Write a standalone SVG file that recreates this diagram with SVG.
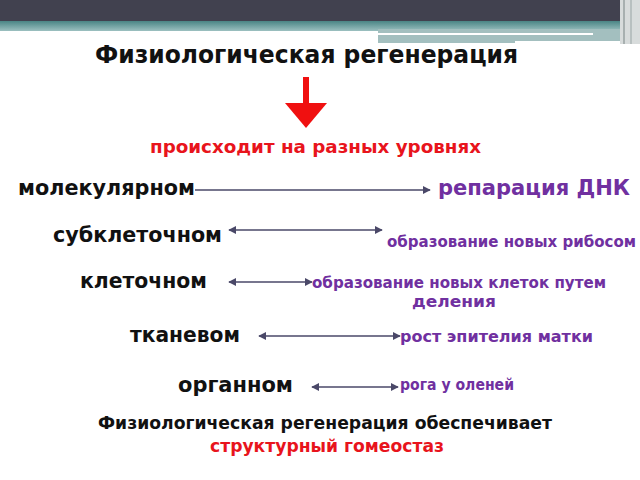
<svg xmlns="http://www.w3.org/2000/svg" width="640" height="480" viewBox="0 0 640 480">
<defs>
<style>
.t{font-family:"DejaVu Sans","Liberation Sans",sans-serif;font-weight:bold}
.blk{fill:#111}
.pur{fill:#7030a0}
.red{fill:#e8141c}
.ln{stroke:#4a4868;stroke-width:1.6;fill:none}
</style>
<marker id="ah" viewBox="0 0 10 10" refX="9" refY="5" markerWidth="8" markerHeight="8" orient="auto-start-reverse" markerUnits="userSpaceOnUse">
<path d="M0,0 L10,5 L0,10 z" fill="#4a4868"/>
</marker>
<linearGradient id="teal" x1="0" y1="0" x2="0" y2="1">
<stop offset="0" stop-color="#4a8585"/>
<stop offset="1" stop-color="#9cc0c0"/>
</linearGradient>
</defs>
<rect width="640" height="480" fill="#fff"/>
<g id="header">
<rect x="0" y="0" width="640" height="21" fill="#41414f"/>
<rect x="0" y="21" width="640" height="10" fill="url(#teal)"/>
<rect x="378" y="29" width="242" height="14" fill="#a3bfbf"/>
<rect x="378" y="33" width="215" height="2" fill="#ffffff"/>
<rect x="515" y="41" width="105" height="3" fill="#ffffff"/>
<rect x="620" y="0" width="20" height="44" fill="#d8dcdc"/>
<rect x="623" y="0" width="2" height="44" fill="#a8b0b0"/>
<rect x="630" y="0" width="2" height="44" fill="#b8c0c0"/>
</g>
<g id="title"><text class="t blk" x="95" y="63" font-size="24" textLength="423" lengthAdjust="spacingAndGlyphs">Физиологическая регенерация</text></g>
<g id="red-arrow"><rect x="303" y="77" width="6" height="28" fill="#f01010"/><path d="M285,103 L327,103 L306,128 z" fill="#f01010"/></g>
<g id="subtitle"><text class="t red" x="150" y="153" font-size="17" textLength="331" lengthAdjust="spacingAndGlyphs">происходит на разных уровнях</text></g>
<g id="n1"><text class="t blk" x="18" y="195" font-size="22" textLength="177" lengthAdjust="spacingAndGlyphs">молекулярном</text></g>
<g id="r1"><text class="t pur" x="438" y="195" font-size="22" textLength="192" lengthAdjust="spacingAndGlyphs">репарация ДНК</text></g>
<g id="n2"><text class="t blk" x="53" y="242" font-size="22" textLength="169" lengthAdjust="spacingAndGlyphs">субклеточном</text></g>
<g id="r2"><text class="t pur" x="387" y="247" font-size="15" textLength="249" lengthAdjust="spacingAndGlyphs">образование новых рибосом</text></g>
<g id="n3"><text class="t blk" x="80" y="288" font-size="22" textLength="127" lengthAdjust="spacingAndGlyphs">клеточном</text></g>
<g id="r3"><text class="t pur" x="312" y="288" font-size="15" textLength="294" lengthAdjust="spacingAndGlyphs">образование новых клеток путем</text><text class="t pur" x="412" y="307" font-size="15" textLength="84" lengthAdjust="spacingAndGlyphs">деления</text></g>
<g id="n4"><text class="t blk" x="130" y="342" font-size="22" textLength="110" lengthAdjust="spacingAndGlyphs">тканевом</text></g>
<g id="r4"><text class="t pur" x="400" y="342" font-size="15" textLength="193" lengthAdjust="spacingAndGlyphs">рост эпителия матки</text></g>
<g id="n5"><text class="t blk" x="178" y="392" font-size="22" textLength="115" lengthAdjust="spacingAndGlyphs">органном</text></g>
<g id="r5"><text class="t pur" x="400" y="390" font-size="15" textLength="114" lengthAdjust="spacingAndGlyphs">рога у оленей</text></g>
<g id="footer"><text class="t blk" x="98" y="429" font-size="18" textLength="454" lengthAdjust="spacingAndGlyphs">Физиологическая регенерация обеспечивает</text><text class="t red" x="210" y="452" font-size="18" textLength="234" lengthAdjust="spacingAndGlyphs">структурный гомеостаз</text></g>
<g id="connectors">
<line class="ln" x1="195" y1="190" x2="430" y2="190" marker-end="url(#ah)"/>
<line class="ln" x1="229" y1="230" x2="382" y2="230" marker-start="url(#ah)" marker-end="url(#ah)"/>
<line class="ln" x1="229" y1="282" x2="312" y2="282" marker-start="url(#ah)" marker-end="url(#ah)"/>
<line class="ln" x1="259" y1="336" x2="400" y2="336" marker-start="url(#ah)" marker-end="url(#ah)"/>
<line class="ln" x1="312" y1="387" x2="398" y2="387" marker-start="url(#ah)" marker-end="url(#ah)"/>
</g>
</svg>
